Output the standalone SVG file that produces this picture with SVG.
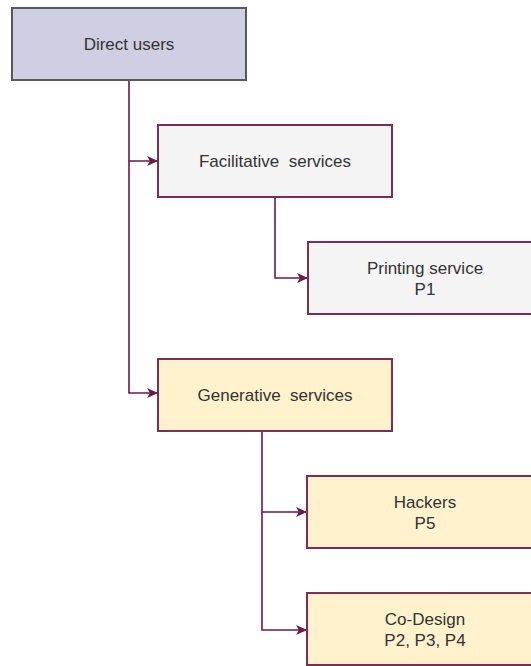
<svg xmlns="http://www.w3.org/2000/svg" width="531" height="666" viewBox="0 0 531 666">
  <style>
    .box { stroke-width: 2; }
    .root { fill: #d0cee2; stroke: #595959; }
    .grey { fill: #f4f4f4; stroke: #7b2d58; }
    .yellow { fill: #fff2cc; stroke: #7b2d58; }
    .label { font-family: "Liberation Sans", Arial, sans-serif; font-size: 17px; fill: #333333; text-anchor: middle; }
    .edge { fill: none; stroke: #6e1846; stroke-width: 1.6; }
  </style>
  <defs>
    <marker id="arrow" markerWidth="12" markerHeight="10" refX="10" refY="5" orient="auto" markerUnits="userSpaceOnUse">
      <path d="M0,0 L11,5 L0,10 L3,5 Z" fill="#6e1846"/>
    </marker>
  </defs>

  <rect width="531" height="666" fill="#ffffff"/>

  <g id="connectors">
    <path class="edge" d="M129,80 V161 H157" marker-end="url(#arrow)"/>
    <path class="edge" d="M129,161 V393 H157" marker-end="url(#arrow)"/>
    <path class="edge" d="M275,197 V278 H307" marker-end="url(#arrow)"/>
    <path class="edge" d="M262,431 V512 H306" marker-end="url(#arrow)"/>
    <path class="edge" d="M262,512 V630 H306" marker-end="url(#arrow)"/>
  </g>

  <g id="direct-users">
    <rect class="box root" x="12" y="8" width="234" height="72"/>
    <text class="label" x="129" y="50">Direct users</text>
  </g>

  <g id="facilitative-services">
    <rect class="box grey" x="158" y="125" width="234" height="72"/>
    <text class="label" x="275" y="167" xml:space="preserve">Facilitative  services</text>
  </g>

  <g id="printing-service">
    <rect class="box grey" x="308" y="242" width="234" height="72"/>
    <text class="label" x="425" y="274">Printing service</text>
    <text class="label" x="425" y="295">P1</text>
  </g>

  <g id="generative-services">
    <rect class="box yellow" x="158" y="359" width="234" height="72"/>
    <text class="label" x="275" y="401" xml:space="preserve">Generative  services</text>
  </g>

  <g id="hackers">
    <rect class="box yellow" x="307" y="476" width="234" height="72"/>
    <text class="label" x="425" y="508">Hackers</text>
    <text class="label" x="425" y="529">P5</text>
  </g>

  <g id="co-design">
    <rect class="box yellow" x="307" y="593" width="234" height="72"/>
    <text class="label" x="425" y="625">Co-Design</text>
    <text class="label" x="425" y="646">P2, P3, P4</text>
  </g>
</svg>
